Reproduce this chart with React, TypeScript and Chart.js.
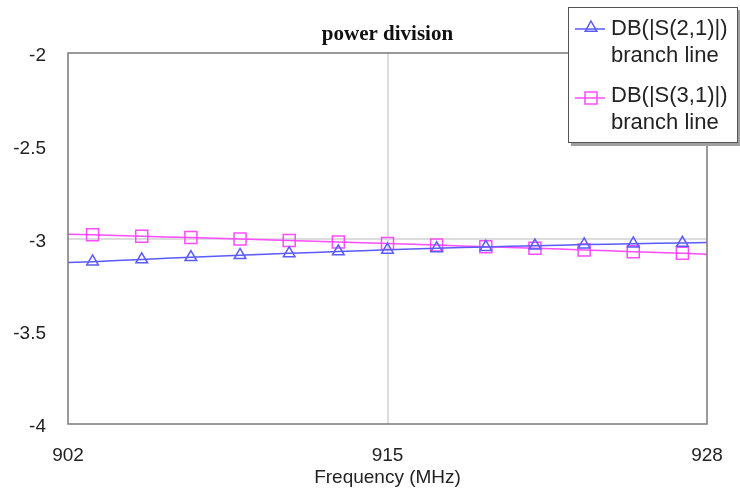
import React, { useEffect, useRef } from 'react';
import { Chart, registerables } from 'chart.js';

Chart.register(...registerables);

// ---- data ----
const freqMHz = [902, 903, 904, 905, 906, 907, 908, 909, 910, 911, 912, 913, 914, 915, 916, 917, 918, 919, 920, 921, 922, 923, 924, 925, 926, 927, 928];
const s21dB = [-3.130, -3.125, -3.119, -3.113, -3.107, -3.101, -3.096, -3.090, -3.085, -3.080, -3.075, -3.070, -3.066, -3.061, -3.057, -3.053, -3.049, -3.046, -3.042, -3.039, -3.036, -3.033, -3.031, -3.028, -3.026, -3.024, -3.022];
const s31dB = [-2.977, -2.980, -2.984, -2.988, -2.992, -2.995, -2.999, -3.003, -3.007, -3.011, -3.015, -3.019, -3.023, -3.027, -3.031, -3.035, -3.040, -3.044, -3.048, -3.053, -3.057, -3.062, -3.066, -3.071, -3.075, -3.080, -3.085];
const xTickValues = [902, 915, 928];
const yTickValues = [-4, -3.5, -3, -2.5, -2];
const seriesLabels = ['DB(|S(2,1)|)', 'DB(|S(3,1)|)'];
const seriesSubLabel = 'branch line';
const chartTitle = 'power division';
const xAxisTitle = 'Frequency (MHz)';

const BLUE = '#5a5aff';
const PINK = '#ff4cff';
const SANS = '"Liberation Sans", Arial, sans-serif';

const framePlugin = {
  id: 'frame',
  afterDraw(chart: any) {
    const { ctx, chartArea: a } = chart;
    ctx.save();
    ctx.strokeStyle = '#7a7a7a';
    ctx.lineWidth = 1.5;
    ctx.strokeRect(a.left, a.top, a.right - a.left, a.bottom - a.top);
    ctx.restore();
  },
};

export default function App() {
  const ref = useRef<HTMLCanvasElement | null>(null);

  useEffect(() => {
    if (!ref.current) return;
    const markerRadius = (r: number) => (c: any) => (freqMHz[c.dataIndex] % 2 === 1 ? r : 0);
    const chart = new Chart(ref.current, {
      type: 'line',
      data: {
        datasets: [
          {
            label: seriesLabels[0],
            data: freqMHz.map((f, i) => ({ x: f, y: s21dB[i] })),
            borderColor: BLUE,
            borderWidth: 1.5,
            pointStyle: 'triangle',
            pointRadius: markerRadius(6.7) as any,
            pointBorderColor: BLUE,
            pointBackgroundColor: 'rgba(0,0,0,0)',
            pointBorderWidth: 1.5,
            tension: 0,
          },
          {
            label: seriesLabels[1],
            data: freqMHz.map((f, i) => ({ x: f, y: s31dB[i] })),
            borderColor: PINK,
            borderWidth: 1.5,
            pointStyle: 'rect',
            pointRadius: markerRadius(8.5) as any,
            pointBorderColor: PINK,
            pointBackgroundColor: 'rgba(0,0,0,0)',
            pointBorderWidth: 1.5,
            tension: 0,
          },
        ],
      },
      options: {
        responsive: false,
        animation: false,
        devicePixelRatio: 1,
        layout: { padding: { left: 0, right: 33, top: 0, bottom: 0 } },
        plugins: { legend: { display: false }, title: { display: false }, tooltip: { enabled: false } },
        scales: {
          x: {
            type: 'linear',
            position: 'bottom',
            min: 902,
            max: 928,
            afterBuildTicks: (s: any) => { s.ticks = xTickValues.map((v) => ({ value: v })); },
            afterFit: (s: any) => { s.height = 68; s.paddingRight = 0; },
            border: { display: false },
            grid: {
              drawTicks: false,
              lineWidth: 2,
              color: (c: any) => (c.tick && c.tick.value === 915 ? '#dcdcdc' : 'rgba(0,0,0,0)'),
            },
            ticks: { padding: 20, color: '#222', font: { family: SANS, size: 19 }, maxRotation: 0, callback: (v: any) => String(v) },
            title: { display: true, text: xAxisTitle, color: '#222', font: { family: SANS, size: 19 }, padding: { top: 0, bottom: 3 } },
          },
          top: {
            type: 'linear',
            position: 'top',
            min: 0,
            max: 1,
            afterFit: (s: any) => { s.height = 53; s.paddingRight = 0; s.paddingLeft = 0; },
            border: { display: false },
            grid: { display: false, drawTicks: false },
            ticks: { display: false },
            title: {
              display: true,
              text: chartTitle,
              color: '#111',
              font: { family: '"Liberation Serif", "Times New Roman", serif', size: 21, weight: 'bold' },
              padding: { top: 22, bottom: 0 },
            },
          },
          y: {
            type: 'linear',
            min: -4,
            max: -2,
            afterBuildTicks: (s: any) => { s.ticks = yTickValues.map((v) => ({ value: v })); },
            afterFit: (s: any) => { s.width = 68; },
            border: { display: false },
            grid: {
              drawTicks: false,
              lineWidth: 2,
              color: (c: any) => (c.tick && c.tick.value === -3 ? '#dcdcdc' : 'rgba(0,0,0,0)'),
            },
            ticks: { padding: 22, labelOffset: 3, color: '#222', font: { family: SANS, size: 19 }, callback: (v: any) => String(v) },
          },
        },
      } as any,
      plugins: [framePlugin],
    });
    return () => chart.destroy();
  }, []);

  const textStyle: React.CSSProperties = {
    position: 'absolute',
    left: 42,
    fontFamily: SANS,
    fontSize: 22,
    lineHeight: '27px',
    color: '#222',
    whiteSpace: 'nowrap',
  };

  return (
    <div style={{ position: 'fixed', left: 0, top: 0, width: 740, height: 492, background: '#fff', overflow: 'hidden' }}>
      <canvas ref={ref} width={740} height={492} style={{ display: 'block' }} />
      <div
        style={{
          position: 'absolute',
          left: 568,
          top: 7,
          width: 170,
          height: 136,
          background: '#fff',
          border: '1px solid #555',
          boxShadow: '3px 3px 0 #a0a0a0',
          boxSizing: 'border-box',
        }}
      >
        <svg width={40} height={136} style={{ position: 'absolute', left: 0, top: 0 }}>
          <line x1={6} y1={21} x2={36} y2={21} stroke={BLUE} strokeWidth={1.5} />
          <polygon points="22,13 27.8,23.3 16.2,23.3" fill="none" stroke={BLUE} strokeWidth={1.5} />
          <line x1={6} y1={90} x2={36} y2={90} stroke={PINK} strokeWidth={1.5} />
          <rect x={16} y={84} width={12} height={12} fill="none" stroke={PINK} strokeWidth={1.5} />
        </svg>
        <div style={{ ...textStyle, top: 6 }}>
          {seriesLabels[0]}
          <br />
          {seriesSubLabel}
        </div>
        <div style={{ ...textStyle, top: 73 }}>
          {seriesLabels[1]}
          <br />
          {seriesSubLabel}
        </div>
      </div>
    </div>
  );
}
